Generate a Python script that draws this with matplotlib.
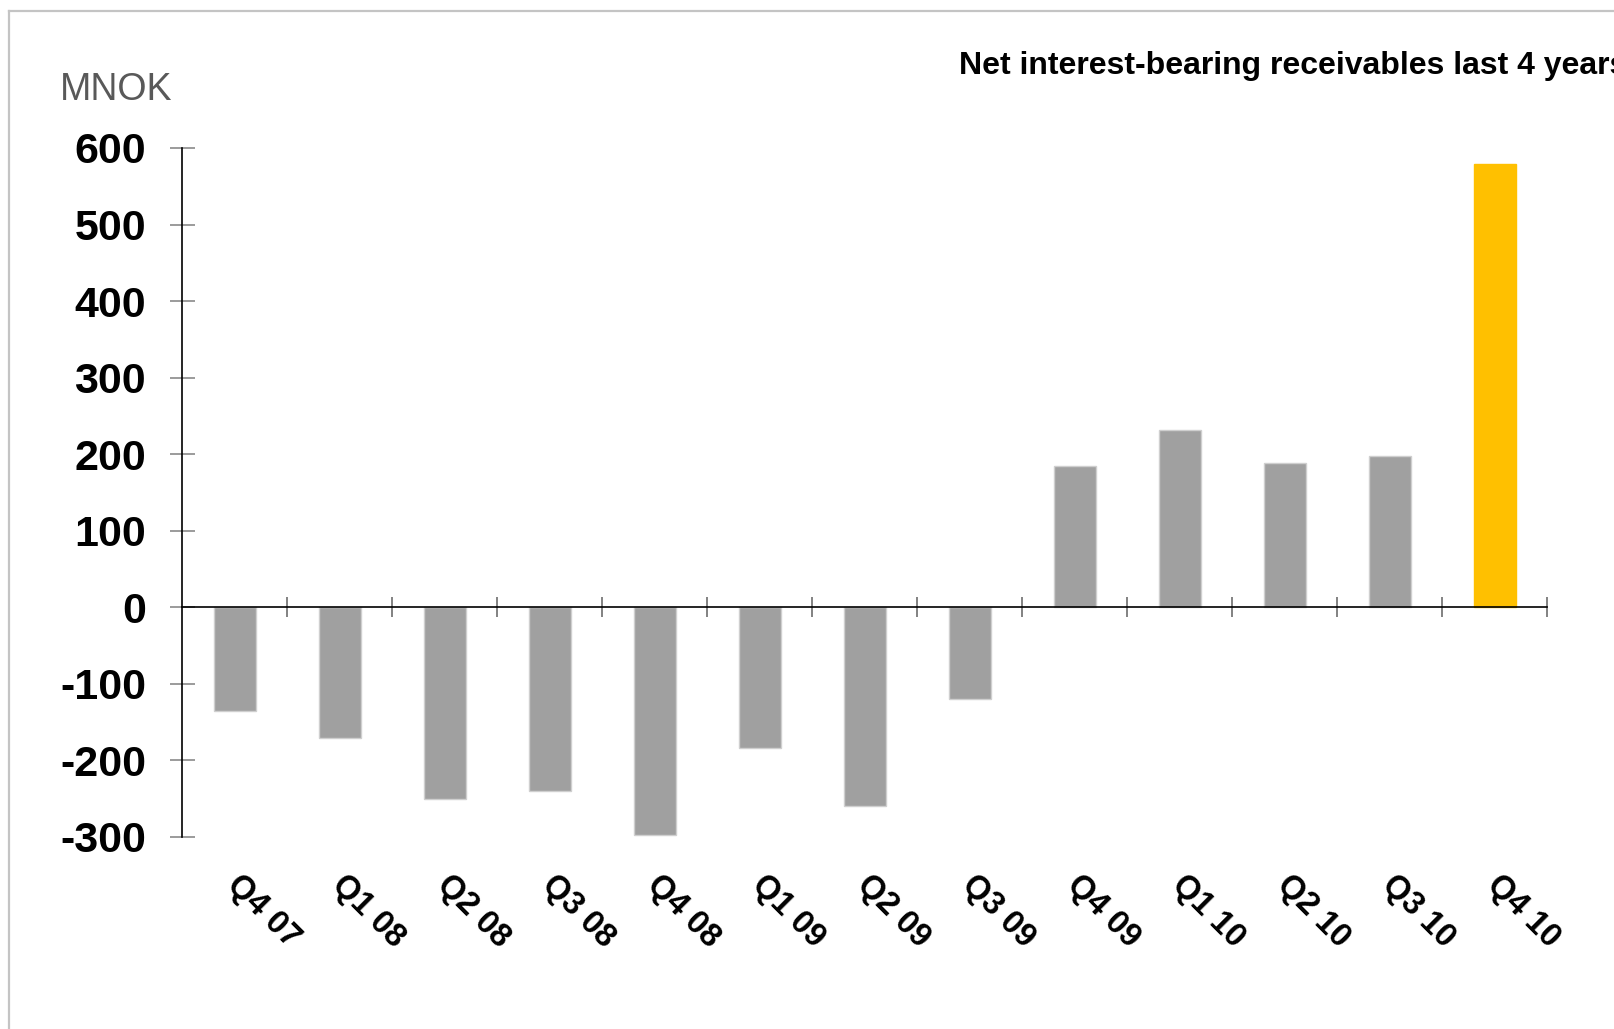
import matplotlib
matplotlib.use('Agg')
import numpy as np
import matplotlib.pyplot as plt
from matplotlib.lines import Line2D

quarters = ['Q4 07', 'Q1 08', 'Q2 08', 'Q3 08', 'Q4 08', 'Q1 09', 'Q2 09',
            'Q3 09', 'Q4 09', 'Q1 10', 'Q2 10', 'Q3 10', 'Q4 10']
receivables = [-135, -171, -250, -240, -297, -184, -260,
               -120, 184, 231, 188, 198, 579]
y_ticks = [-300, -200, -100, 0, 100, 200, 300, 400, 500, 600]

GREY = '#a0a0a0'
YELLOW = '#ffc000'
FONT = 'Liberation Sans'


def draw_chart():
    fig = plt.figure(figsize=(16.14, 10.29), dpi=100)
    ax = fig.add_axes([0.1128, 0.1866, 0.9585 - 0.1128, 0.8562 - 0.1866])

    x = np.arange(len(quarters))
    colors = [GREY] * (len(quarters) - 1) + [YELLOW]
    edges = ['#cfcfcf'] * (len(quarters) - 1) + [YELLOW]
    ax.bar(x, receivables, width=0.4, color=colors, edgecolor=edges, linewidth=1, zorder=2)

    ax.set_xlim(-0.5, len(quarters) - 0.5)
    ax.set_ylim(-300, 600)

    for side in ['top', 'right']:
        ax.spines[side].set_visible(False)
    ax.spines['bottom'].set_position(('data', 0))
    ax.spines['bottom'].set_linewidth(1.2)
    ax.spines['left'].set_linewidth(1.2)
    ax.spines['bottom'].set_zorder(3)

    # y axis
    ax.set_yticks(y_ticks)
    ax.set_yticklabels([str(v) for v in y_ticks], fontsize=31, fontweight='bold', fontfamily=FONT)
    ax.tick_params(axis='y', direction='inout', length=18, width=1.1, color='#808080', pad=17)

    # x axis: boundary ticks only, labels placed under the plot
    ax.set_xticks(np.arange(len(quarters)) + 0.5)
    ax.set_xticklabels([])
    ax.tick_params(axis='x', direction='inout', length=14, width=1.1, color='#606060')
    for i, lab in enumerate(quarters):
        ax.text(i + 0.08, -0.047, lab, transform=ax.get_xaxis_transform(), rotation=-45,
                rotation_mode='anchor', ha='left', va='top', fontsize=23.5,
                fontweight='bold', fontfamily=FONT)

    fig.text(60 / 1614, 1 - 90 / 1029, 'MNOK', fontsize=27, color='#595959',
             fontfamily=FONT, ha='left', va='center')
    fig.text(959 / 1614, 1 - 66 / 1029, 'Net interest-bearing receivables last 4 years',
             fontsize=23, fontweight='bold', fontfamily=FONT, ha='left', va='center')

    # slide frame
    fig.add_artist(Line2D([8.5 / 1614, 8.5 / 1614], [0, 1 - 11 / 1029], color='#c4c4c4', linewidth=1.6))
    fig.add_artist(Line2D([8.5 / 1614, 1], [1 - 11 / 1029, 1 - 11 / 1029], color='#c4c4c4', linewidth=1.6))

    fig.savefig('out.png', dpi=100)


if __name__ == '__main__':
    draw_chart()
